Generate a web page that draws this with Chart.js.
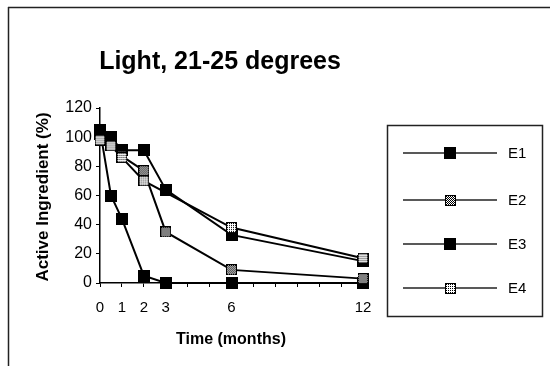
<!DOCTYPE html>
<html>
<head>
<meta charset="utf-8">
<script src="https://cdn.jsdelivr.net/npm/chart.js@4.4.1/dist/chart.umd.min.js"></script>
<style>
  html, body { margin: 0; padding: 0; background: #fff; }
  #wrap { width: 550px; height: 366px; }
</style>
</head>
<body>
<div id="wrap"><canvas id="lightChart" width="550" height="366"></canvas></div>
<script>
// sampling times (months) and the labelled ticks on the time axis
const months = [0, 0.5, 1, 2, 3, 6, 12];
const monthLabels = [0, 1, 2, 3, 6, 12];

// active ingredient remaining (%), one array per formulation
const seriesNames = ['E1', 'E2', 'E3', 'E4'];
const e1Values = [102, 100, 91, 91, 64, 33, 15];
const e2Values = [98, 95, 87, 77, 35, 9, 3];
const e3Values = [105, 60, 44, 5, 0, 0, 0];
const e4Values = [98, 94, 86, 70, null, 38, 17];

// ======================
// MARKERS
// ======================
function makeMarker(size, dot) {
  const c = document.createElement('canvas');
  c.width = size;
  c.height = size;
  const g = c.getContext('2d');
  g.fillStyle = '#000';
  g.fillRect(0, 0, size, size);
  g.fillStyle = '#fff';
  g.fillRect(1, 1, size - 2, size - 2);
  g.fillStyle = '#000';
  for (let y = 1; y < size - 1; y++) {
    for (let x = 1; x < size - 1; x++) {
      if (dot(x, y)) g.fillRect(x, y, 1, 1);
    }
  }
  return c;
}

const solidMarker = makeMarker(12, () => true);
const greyMarker = makeMarker(11, (x, y) => (x + y) % 2 === 0);
const lightMarker = makeMarker(11, (x, y) => x % 2 === 1 && y % 2 === 1);

function toPoints(values) {
  return months.map((m, i) => ({ x: m, y: values[i] }));
}

function series(label, values, marker, order) {
  return {
    label,
    data: toPoints(values),
    borderColor: '#000',
    borderWidth: 2,
    pointStyle: marker,
    pointRadius: 6,
    pointHoverRadius: 6,
    spanGaps: true,
    tension: 0,
    clip: false,
    order
  };
}

// ======================
// FRAME, TITLES, LEGEND
// ======================
const decorations = {
  id: 'decorations',
  afterDraw(chart) {
    const ctx = chart.ctx;
    ctx.save();

    // outer frame (top + left edge)
    ctx.strokeStyle = '#222';
    ctx.lineWidth = 1.5;
    ctx.beginPath();
    ctx.moveTo(8, 7.5);
    ctx.lineTo(550, 7.5);
    ctx.moveTo(8.5, 7);
    ctx.lineTo(8.5, 366);
    ctx.stroke();

    ctx.fillStyle = '#000';
    ctx.textAlign = 'center';
    ctx.textBaseline = 'middle';

    ctx.font = 'bold 25px "Liberation Sans", Arial, sans-serif';
    ctx.fillText('Light, 21-25 degrees', 220, 62);

    ctx.font = 'bold 16px "Liberation Sans", Arial, sans-serif';
    ctx.fillText('Time (months)', 231, 340);

    ctx.save();
    ctx.translate(43, 197);
    ctx.rotate(-Math.PI / 2);
    ctx.font = 'bold 17px "Liberation Sans", Arial, sans-serif';
    ctx.fillText('Active Ingredient (%)', 0, 0);
    ctx.restore();

    // legend box
    ctx.lineWidth = 1.5;
    ctx.strokeRect(387.5, 125.5, 155, 191);

    const rows = [153, 200, 244, 288];
    chart.data.datasets.forEach((ds, i) => {
      const y = rows[i];
      ctx.lineWidth = 1.5;
      ctx.beginPath();
      ctx.moveTo(403, y);
      ctx.lineTo(497, y);
      ctx.stroke();
      const img = ds.pointStyle;
      ctx.drawImage(img, Math.round(450 - img.width / 2), Math.round(y - img.height / 2));
      ctx.textAlign = 'left';
      ctx.font = '15px "Liberation Sans", Arial, sans-serif';
      ctx.fillText(ds.label, 508, y + 1);
    });

    ctx.restore();
  }
};

// ======================
// CHART
// ======================
new Chart(document.getElementById('lightChart'), {
  type: 'line',
  data: {
    datasets: [
      series(seriesNames[0], e1Values, solidMarker, 2),
      series(seriesNames[1], e2Values, greyMarker, 1),
      series(seriesNames[2], e3Values, solidMarker, 3),
      series(seriesNames[3], e4Values, lightMarker, 0)
    ]
  },
  options: {
    responsive: false,
    animation: false,
    events: [],
    layout: {
      padding: { left: 0, right: 187, top: 108, bottom: 0 }
    },
    plugins: {
      legend: { display: false },
      title: { display: false },
      tooltip: { enabled: false }
    },
    scales: {
      x: {
        type: 'linear',
        min: 0,
        max: 12,
        afterFit: (scale) => { scale.height = 83; },
        grid: {
          drawOnChartArea: false,
          tickLength: 4,
          color: '#000',
          lineWidth: 1
        },
        border: { color: '#000', width: 1.5 },
        ticks: {
          stepSize: 1,
          autoSkip: false,
          maxRotation: 0,
          padding: 12,
          color: '#000',
          font: { family: '"Liberation Sans", Arial, sans-serif', size: 15 },
          callback: (v) => (monthLabels.includes(v) ? String(v) : '')
        }
      },
      y: {
        min: 0,
        max: 120,
        afterFit: (scale) => { scale.width = 100; },
        grid: {
          drawOnChartArea: false,
          tickLength: 4,
          color: '#000',
          lineWidth: 1
        },
        border: { color: '#000', width: 1.5 },
        ticks: {
          stepSize: 20,
          padding: 4,
          color: '#000',
          font: { family: '"Liberation Sans", Arial, sans-serif', size: 16 }
        }
      }
    }
  },
  plugins: [decorations]
});
</script>
</body>
</html>
